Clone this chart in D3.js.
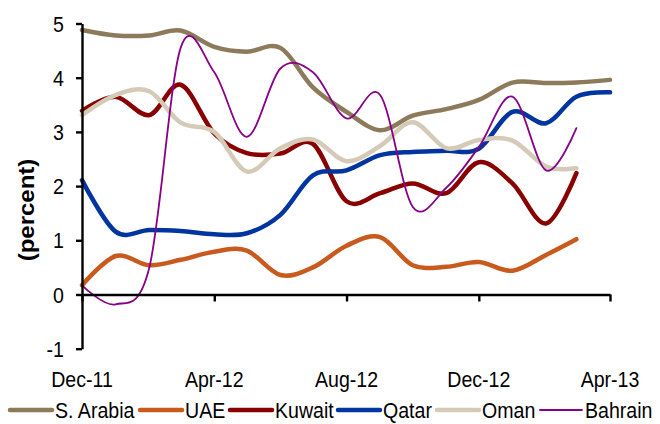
<!DOCTYPE html>
<html>
<head>
<meta charset="utf-8">
<script src="https://cdn.jsdelivr.net/npm/d3@7"></script>
<style>
  body { margin: 0; background: white; }
  svg { display: block; }
</style>
</head>
<body>
<script>
// monthly points, Dec-11 .. Apr-13
const months = ["2011-12","2012-01","2012-02","2012-03","2012-04","2012-05","2012-06","2012-07",
                "2012-08","2012-09","2012-10","2012-11","2012-12","2013-01","2013-02","2013-03","2013-04"]

const names = ["S. Arabia", "UAE", "Kuwait", "Qatar", "Oman", "Bahrain"]

const sArabia = [4.88, 4.78, 4.78, 4.87, 4.57, 4.48, 4.55, 3.82, 3.37, 3.03, 3.30, 3.42, 3.59, 3.91, 3.90, 3.91, 3.96]
const uae     = [0.17, 0.71, 0.54, 0.64, 0.79, 0.81, 0.36, 0.50, 0.90, 1.06, 0.54, 0.51, 0.60, 0.44, 0.73, 1.02]
const kuwait  = [3.39, 3.65, 3.31, 3.87, 2.97, 2.61, 2.60, 2.78, 1.72, 1.87, 2.05, 1.87, 2.44, 2.05, 1.31, 2.24]
const qatar   = [2.11, 1.16, 1.19, 1.17, 1.11, 1.13, 1.47, 2.20, 2.29, 2.57, 2.63, 2.65, 2.69, 3.37, 3.16, 3.65, 3.73]
const oman    = [3.31, 3.68, 3.75, 3.17, 3.00, 2.27, 2.70, 2.86, 2.46, 2.74, 3.18, 2.70, 2.85, 2.84, 2.36, 2.33]
const bahrain = [0.17, -0.18, 0.49, 4.55, 4.10, 2.91, 4.17, 4.10, 3.25, 3.68, 1.62, 1.97, 2.72, 3.65, 2.29, 3.07]

const yTicks = [-1, 0, 1, 2, 3, 4, 5]
const xTicks = ["2011-12", "2012-04", "2012-08", "2012-12", "2013-04"]
const xTickLabels = ["Dec-11", "Apr-12", "Aug-12", "Dec-12", "Apr-13"]

const W = 660, H = 424
const font = "'Liberation Sans', Arial, sans-serif"
const a = {
    colors: ["#8c7a5a", "#c85a1e", "#880000", "#0035a0", "#d5cab7", "#880088"],
    widths: [4.5, 4.5, 4.5, 4.5, 4.5, 1.8],
    axis: "#000",
    fs: 22,
    sx: 0.89  // text in the picture is a bit narrow
}

const parse = d3.timeParse("%Y-%m")
const series = [sArabia, uae, kuwait, qatar, oman, bahrain].map((v, i) => ({
    name: names[i],
    color: a.colors[i],
    width: a.widths[i],
    values: v.map((d, j) => ({date: parse(months[j]), value: d}))
}))

const x = d3.scaleTime()
    .domain([parse(months[0]), parse(months[months.length - 1])])
    .range([82, 610])
const y = d3.scaleLinear()
    .domain([-1, 5])
    .range([348.7, 23.5])

const svg = d3.select("body").append("svg")
    .attr("width", W)
    .attr("height", H)
    .style("font-family", font)

// lines
const line = d3.line()
    .x(d => x(d.date))
    .y(d => y(d.value))
    .curve(d3.curveCardinal.tension(0))

svg.append("g")
    .selectAll("path")
    .data(series)
    .join("path")
        .attr("fill", "none")
        .attr("stroke", d => d.color)
        .attr("stroke-width", d => d.width)
        .attr("stroke-linejoin", "round")
        .attr("stroke-linecap", "round")
        .attr("d", d => line(d.values))

// y axis
const gy = svg.append("g")
    .attr("transform", `translate(${x.range()[0]},0)`)
    .call(d3.axisLeft(y).tickValues(yTicks).tickSize(6).tickSizeOuter(0).tickFormat(""))
gy.selectAll("path, line").attr("stroke", a.axis).attr("stroke-width", 2.4)

gy.selectAll(".ylab")
    .data(yTicks)
    .join("text")
        .attr("class", "ylab")
        .attr("transform", d => `translate(${64 - x.range()[0]},${y(d) + 8}) scale(${a.sx},1)`)
        .attr("text-anchor", "end")
        .attr("font-size", a.fs)
        .attr("fill", "#000")
        .text(d => d)

// x axis at zero
const gx = svg.append("g")
    .attr("transform", `translate(0,${y(0)})`)
    .call(d3.axisBottom(x).tickValues(xTicks.map(parse)).tickSize(7).tickSizeOuter(0).tickFormat(""))
gx.selectAll("path, line").attr("stroke", a.axis).attr("stroke-width", 2.4)

svg.append("g")
    .selectAll("text")
    .data(xTicks)
    .join("text")
        .attr("transform", d => `translate(${x(parse(d))},387) scale(${a.sx},1)`)
        .attr("text-anchor", "middle")
        .attr("font-size", a.fs)
        .attr("fill", "#000")
        .text((d, i) => xTickLabels[i])

// y title
svg.append("text")
    .attr("transform", `translate(34,210) rotate(-90) scale(1,${a.sx})`)
    .attr("text-anchor", "middle")
    .attr("font-size", 24)
    .attr("font-weight", "bold")
    .attr("fill", "#000")
    .text("(percent)")

// legend
const legendX = [10, 140, 230, 338, 437, 540]
const leg = svg.append("g")
    .selectAll("g")
    .data(series)
    .join("g")
        .attr("transform", (d, i) => `translate(${legendX[i]},410)`)

leg.append("line")
    .attr("x1", 0)
    .attr("x2", 42)
    .attr("stroke", d => d.color)
    .attr("stroke-width", d => d.width)
    .attr("stroke-linecap", "round")

leg.append("text")
    .attr("transform", `translate(45,8) scale(${a.sx},1)`)
    .attr("font-size", a.fs)
    .attr("fill", "#000")
    .text(d => d.name)
</script>
</body>
</html>
